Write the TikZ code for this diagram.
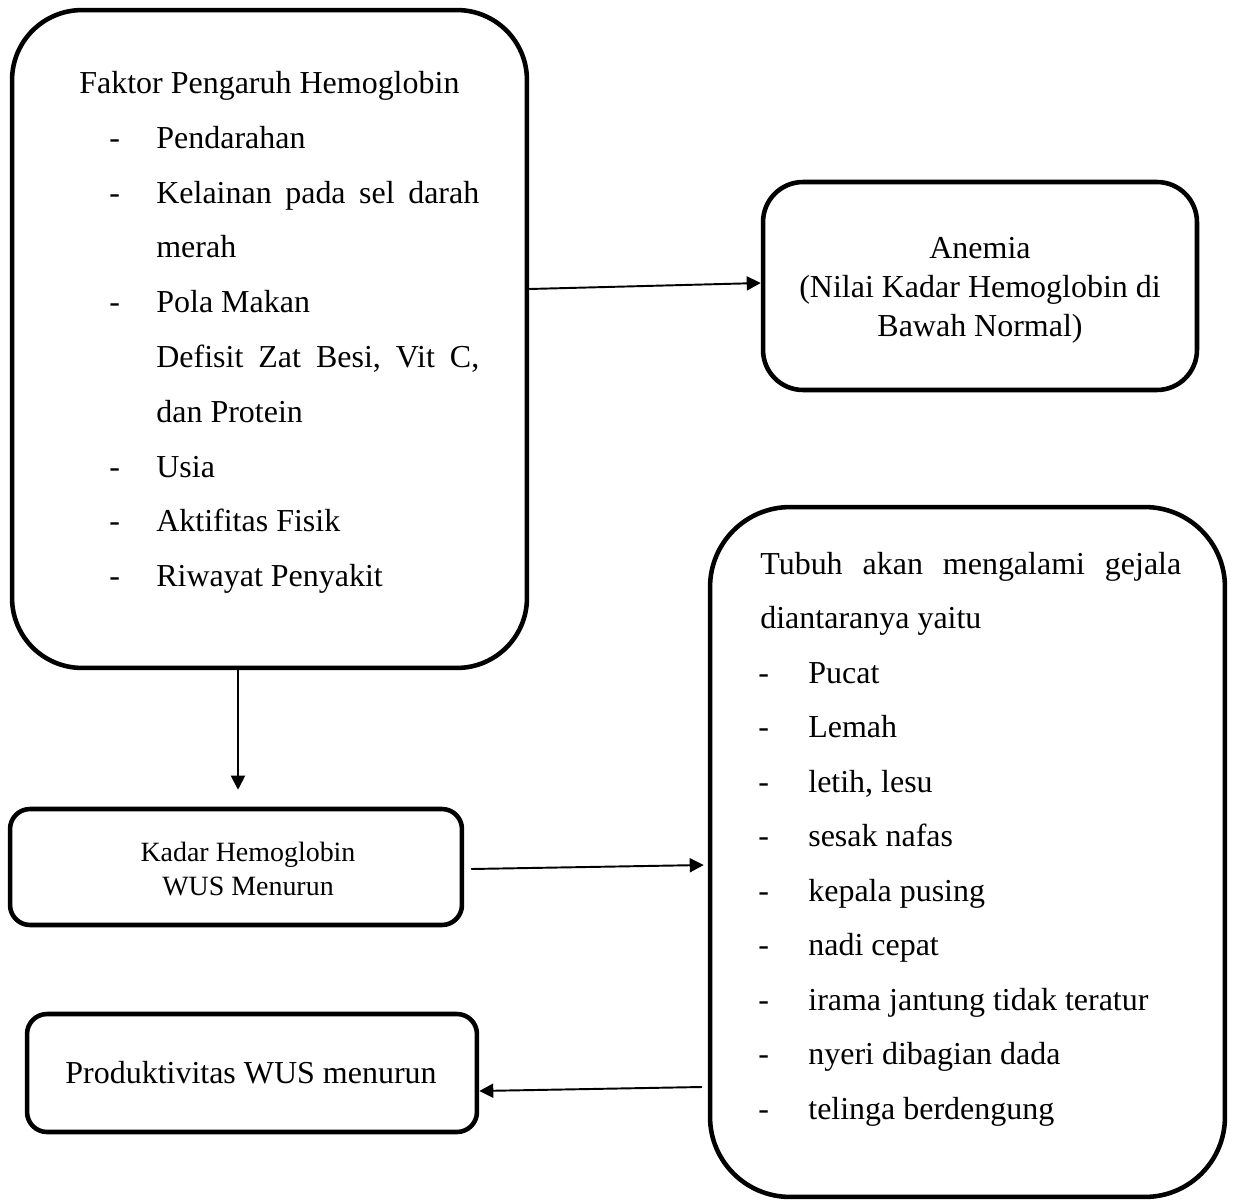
\documentclass[tikz,border=0pt]{standalone}
\usepackage{fontspec}
\setmainfont{Liberation Serif}
\usetikzlibrary{arrows.meta,calc}
\begin{document}
\begin{tikzpicture}[x=0.02cm,y=-0.02cm,
  box/.style={draw, line width=2.6pt, inner sep=0pt},
  txt/.style={anchor=base west, inner sep=0pt, font=\fontsize{18.2}{21}\selectfont},
  ctxt/.style={anchor=base, inner sep=0pt, font=\fontsize{18.2}{21}\selectfont},
  stxt/.style={anchor=base, inner sep=0pt, font=\fontsize{15.9}{19}\selectfont},
  arr/.style={line width=1.1pt, -{Triangle[length=8pt,width=8pt]}}]
\useasboundingbox (0,0) rectangle (1234,1200);

% boxes
\node[box, minimum width=10.3cm, minimum height=13.16cm, rounded corners=1.4cm] (faktor) at (269.5,339) {};
\node[box, minimum width=8.68cm, minimum height=4.16cm, rounded corners=0.8cm] (anemia) at (980,286) {};
\node[box, minimum width=9.04cm, minimum height=2.32cm, rounded corners=0.4cm] (kadar) at (236,867) {};
\node[box, minimum width=9cm, minimum height=2.36cm, rounded corners=0.4cm] (prod) at (252,1073) {};
\node[box, minimum width=10.3cm, minimum height=13.8cm, rounded corners=1.6cm] (tubuh) at (967.5,852) {};

% Faktor text
\node[txt] (f0) at (79,93.5) {Faktor Pengaruh Hemoglobin};
\node[txt] (fd1) at (109,148.3) {-};
\node[txt] (f1) at (156,148.3) {Pendarahan};
\node[txt] (fd2) at (109,203.1) {-};
\node[txt] (f2) at (156,203.1) {\makebox[6.46cm][l]{Kelainan\hfill pada\hfill sel\hfill darah}};
\node[txt] (f3) at (156,257.9) {merah};
\node[txt] (fd4) at (109,312.7) {-};
\node[txt] (f4) at (156,312.7) {Pola Makan};
\node[txt] (f5) at (156,367.5) {\makebox[6.46cm][l]{Defisit\hfill Zat\hfill Besi,\hfill Vit\hfill C,}};
\node[txt] (f6) at (156,422.3) {dan Protein};
\node[txt] (fd7) at (109,477.1) {-};
\node[txt] (f7) at (156,477.1) {Usia};
\node[txt] (fd8) at (109,531.9) {-};
\node[txt] (f8) at (156,531.9) {Aktifitas Fisik};
\node[txt] (fd9) at (109,586.7) {-};
\node[txt] (f9) at (156,586.7) {Riwayat Penyakit};

% Anemia text
\node[ctxt] (a1) at (980,258) {Anemia};
\node[ctxt] (a2) at (980,297) {(Nilai Kadar Hemoglobin di};
\node[ctxt] (a3) at (980,336) {Bawah Normal)};

% Kadar text
\node[stxt] (k1) at (248,861) {Kadar Hemoglobin};
\node[stxt] (k2) at (248,895) {WUS Menurun};

% Produktivitas text
\node[ctxt] (p1) at (251,1083) {Produktivitas WUS menurun};

% Tubuh text
\node[txt] (t0) at (760,574) {\makebox[8.42cm][l]{Tubuh\hfill akan\hfill mengalami\hfill gejala}};
\node[txt] (t0b) at (760,628.5) {diantaranya yaitu};
\node[txt] (td1) at (758,683) {-};
\node[txt] (t1) at (808,683) {Pucat};
\node[txt] (td2) at (758,737.5) {-};
\node[txt] (t2) at (808,737.5) {Lemah};
\node[txt] (td3) at (758,792) {-};
\node[txt] (t3) at (808,792) {letih, lesu};
\node[txt] (td4) at (758,846.5) {-};
\node[txt] (t4) at (808,846.5) {sesak nafas};
\node[txt] (td5) at (758,901) {-};
\node[txt] (t5) at (808,901) {kepala pusing};
\node[txt] (td6) at (758,955.5) {-};
\node[txt] (t6) at (808,955.5) {nadi cepat};
\node[txt] (td7) at (758,1010) {-};
\node[txt] (t7) at (808,1010) {irama jantung tidak teratur};
\node[txt] (td8) at (758,1064.5) {-};
\node[txt] (t8) at (808,1064.5) {nyeri dibagian dada};
\node[txt] (td9) at (758,1119) {-};
\node[txt] (t9) at (808,1119) {telinga berdengung};

% connectors
\coordinate (c2end) at ($(kadar.north)+(2,-17)$);
\draw[arr] ($(faktor.east)+(0,-50)$) -- ($(anemia.west)+(0,-3)$);
\draw[arr] ($(faktor.south)+(-31.5,-4)$) -- (c2end);
\draw[arr] ($(kadar.east)+(7,2)$) -- ($(tubuh.west)+(-4,13)$);
\draw[arr] ($(tubuh.west)+(-6,235)$) -- ($(prod.east)+(0,18)$);
\end{tikzpicture}
\end{document}
